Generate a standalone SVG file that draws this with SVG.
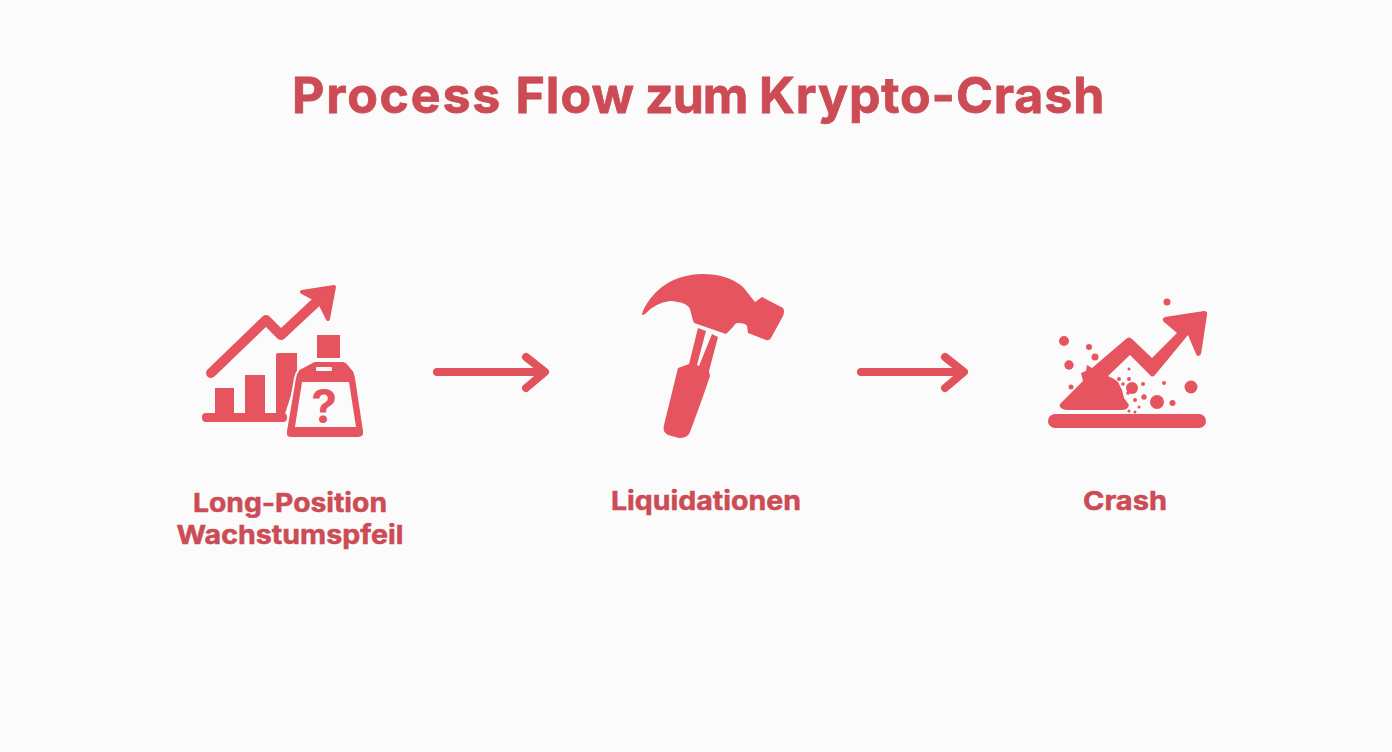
<svg xmlns="http://www.w3.org/2000/svg" width="1392" height="752" viewBox="0 0 1392 752">
<style>
.t{font-family:Inter,"Liberation Sans",sans-serif;font-weight:700;fill:#cc4b54;stroke:#cc4b54;stroke-width:.5;text-anchor:middle}
.f{fill:#e6545f}
.s{fill:none;stroke:#e6545f;stroke-linecap:round;stroke-linejoin:round}
.c{fill:none;stroke:#e2525c;stroke-width:8;stroke-linecap:round;stroke-linejoin:round}
</style>
<rect width="1392" height="752" fill="#fbfbfb"/>
<text font-family="Inter,'Liberation Sans',sans-serif" font-weight="700" font-size="50" fill="#cc4b54" stroke="#cc4b54" stroke-width=".8" y="113"><tspan x="292" letter-spacing="1.8">Process</tspan><tspan x="515.5" letter-spacing="1">Flow</tspan><tspan x="645" letter-spacing="-1">zum</tspan><tspan x="759" letter-spacing="0.9">Krypto-Crash</tspan></text>
<g id="node-long">
<path class="s" stroke-width="10" d="M211 373L266 320L281 335L326 293"/>
<path class="f" stroke="#e6545f" stroke-width="4" stroke-linejoin="round" d="M302 292L334 287L328 319L319 301Z"/>
<rect class="f" x="202" y="413" width="85" height="9" rx="4"/>
<rect class="f" x="215" y="388" width="19" height="27"/>
<rect class="f" x="245" y="375" width="20" height="40"/>
<path class="f" d="M276 355Q276 353 278 353L297 353L297 376L285 414L276 414Z"/>
<rect class="f" x="317" y="335" width="23" height="23"/>
<path class="f" stroke="#fbfbfb" stroke-width="2" d="M314 361L343 361Q346 361 348 364L354 371Q355 373 356 378L364 431Q365 438 358 438L291 438Q285 438 286 431L295 378Q296 373 299 369Z"/>
<path fill="#fbfbfb" d="M302 382L349 382L356 427L295 427Z"/>
<rect x="316" y="367" width="16" height="4" rx="1" fill="#fbfbfb"/>
<text x="324" y="423" font-size="46" font-weight="700" font-family="Inter,'Liberation Sans',sans-serif" fill="#e6545f" text-anchor="middle">?</text>
<text class="t" x="290" y="512" font-size="26" textLength="194" lengthAdjust="spacingAndGlyphs">Long-Position</text>
<text class="t" x="290" y="544" font-size="26" textLength="227" lengthAdjust="spacingAndGlyphs">Wachstumspfeil</text>
</g>
<g id="node-liquidationen">
<path class="f" d="M642 314Q643 309 650 299Q668 275 702 274Q728 274 743 287L755 302L762 297L783 308Q785 311 783 316L771 338Q769 341 766 340L748 333L747 326Q746 323 738 323Q735 323 733 327L726 334L694 323Q692 318 690 309Q687 302 670 301Q655 303 645 314Q642 316 642 314Z"/>
<path class="f" d="M698 328L706 331L697 365L699 366L712 334L718 337L709 371L710 376Q702 400 690 432Q688 438 679 438L668 435Q662 432 664 425L678 368L689 364Z"/>
<text class="t" x="706" y="510" font-size="26" textLength="190" lengthAdjust="spacingAndGlyphs">Liquidationen</text>
</g>
<g id="node-crash">
<rect class="f" x="1048" y="414" width="158" height="14" rx="7"/>
<path class="f" d="M1060 404L1083 381L1081 373L1086 371L1087 365L1092 368L1126 339Q1129 336 1132 339L1152 358L1177 333L1164 322Q1161 319 1165 317L1204 311Q1208 311 1207 315L1201 354Q1198 358 1196 354L1188 335L1155 375Q1152 378 1150 375L1130 355L1108 376L1114 379L1118 382L1122 390L1124 398L1129 405Q1128 410 1122 410L1066 410Q1058 408 1060 404Z"/>
<circle class="f" cx="1167" cy="302" r="3.5"/>
<circle class="f" cx="1064" cy="341" r="5"/>
<circle class="f" cx="1089" cy="347" r="3"/>
<circle class="f" cx="1095" cy="357" r="3.5"/>
<circle class="f" cx="1069" cy="365" r="4.7"/>
<circle class="f" cx="1071" cy="387" r="2.5"/>
<circle class="f" cx="1129" cy="369" r="1.5"/>
<circle class="f" cx="1129" cy="379" r="2"/>
<circle class="f" cx="1119" cy="379" r="2"/>
<circle class="f" cx="1123" cy="384" r="1.8"/>
<circle class="f" cx="1128" cy="393" r="1.8"/>
<circle class="f" cx="1132" cy="388" r="6"/>
<circle class="f" cx="1143" cy="384" r="2"/>
<circle class="f" cx="1144" cy="397" r="2.7"/>
<circle class="f" cx="1157" cy="402" r="7"/>
<circle class="f" cx="1164" cy="383" r="2"/>
<circle class="f" cx="1191" cy="387" r="6.5"/>
<circle class="f" cx="1172.500" cy="403" r="3"/>
<circle class="f" cx="1135" cy="400" r="2"/>
<circle class="f" cx="1139" cy="407" r="1.5"/>
<circle class="f" cx="1129" cy="411" r="1.5"/>
<circle class="f" cx="1135" cy="412" r="1.5"/>
<text class="t" x="1125" y="510" font-size="26" textLength="84" lengthAdjust="spacingAndGlyphs">Crash</text>
</g>
<g id="connectors">
<path class="c" d="M437 372L543 372"/>
<path class="c" d="M526 357L545 372L526 388"/>
<path class="c" d="M861 372L962 372"/>
<path class="c" d="M945 357L964 372L945 388"/>
</g>
</svg>
